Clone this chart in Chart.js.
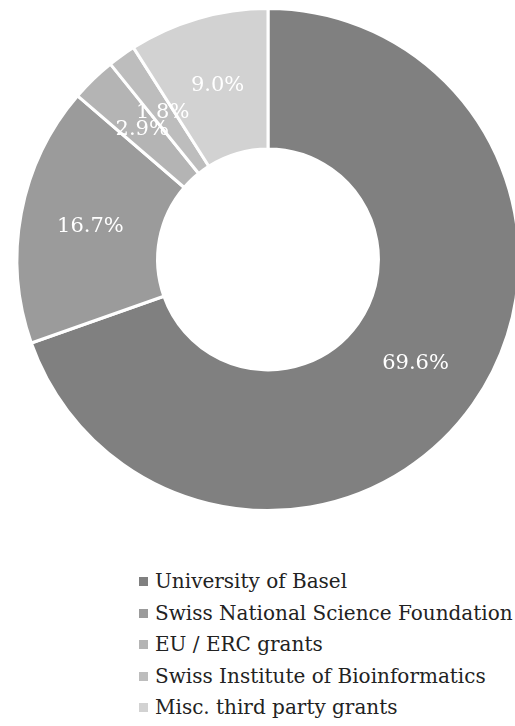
<!DOCTYPE html>
<html>
<head>
<meta charset="utf-8">
<script src="https://cdn.jsdelivr.net/npm/chart.js@4/dist/chart.umd.min.js"></script>
<style>
    html, body {
        margin: 0;
        padding: 0;
        width: 515px;
        height: 726px;
        overflow: hidden;
        background: #fff;
        font-family: "DejaVu Serif", serif;
    }
    #chartBox {
        position: absolute;
        left: 0;
        top: 7px;
        width: 536px;
        height: 505px;
    }
    #legend {
        position: absolute;
        left: 139px;
        top: 566px;
        margin: 0;
        padding: 0;
        list-style: none;
        font-size: 20px;
        line-height: 31.5px;
        color: #222;
        white-space: nowrap;
    }
    #legend span {
        display: inline-block;
        width: 9px;
        height: 9px;
        margin-right: 7px;
        vertical-align: 2px;
    }
</style>
</head>
<body>
<div id="chartBox"><canvas id="fundingChart"></canvas></div>
<ul id="legend"></ul>
<script>
const labels = [
    'University of Basel',
    'Swiss National Science Foundation',
    'EU / ERC grants',
    'Swiss Institute of Bioinformatics',
    'Misc. third party grants'
];
const shares = [69.6, 16.7, 2.9, 1.8, 9.0];
const colors = ['#808080', '#9b9b9b', '#b4b4b4', '#bdbdbd', '#d2d2d2'];

// draw the percentage in the middle of each slice
const sliceLabels = {
    id: 'sliceLabels',
    afterDatasetsDraw(chart) {
        const ctx = chart.ctx;
        const meta = chart.getDatasetMeta(0);
        ctx.save();
        ctx.font = '21px "DejaVu Serif", serif';
        ctx.fillStyle = '#ffffff';
        ctx.textAlign = 'center';
        ctx.textBaseline = 'middle';
        meta.data.forEach((arc, i) => {
            const p = arc.getCenterPoint();
            ctx.fillText(shares[i].toFixed(1) + '%', p.x, p.y);
        });
        ctx.restore();
    }
};

new Chart(document.getElementById('fundingChart'), {
    type: 'doughnut',
    data: {
        labels: labels,
        datasets: [{
            data: shares,
            backgroundColor: colors,
            borderColor: '#ffffff',
            borderWidth: 3
        }]
    },
    options: {
        responsive: true,
        maintainAspectRatio: false,
        animation: false,
        cutout: '44%',
        layout: { padding: 0 },
        plugins: {
            legend: { display: false },
            tooltip: { enabled: false }
        }
    },
    plugins: [sliceLabels]
});

const legend = document.getElementById('legend');
labels.forEach((name, i) => {
    const li = document.createElement('li');
    const box = document.createElement('span');
    box.style.background = colors[i];
    li.appendChild(box);
    li.appendChild(document.createTextNode(name));
    legend.appendChild(li);
});
</script>
</body>
</html>
